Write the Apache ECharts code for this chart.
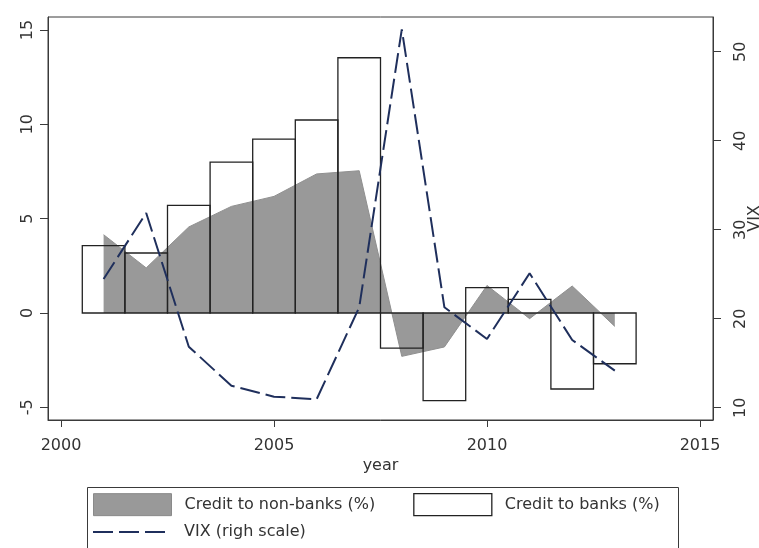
<!DOCTYPE html>
<html>
<head>
<meta charset="utf-8">
<script src="https://cdn.jsdelivr.net/npm/echarts@6/dist/echarts.min.js"></script>
<style>
  html, body { margin: 0; padding: 0; background: #fff; }
  #chart { width: 759px; height: 548px; }
</style>
</head>
<body>
<div id="chart"></div>
<script>
// yearly data
const years = [2001, 2002, 2003, 2004, 2005, 2006, 2007, 2008, 2009, 2010, 2011, 2012, 2013]
const creditNonBanks = [4.15, 2.39, 4.56, 5.65, 6.18, 7.37, 7.54, -2.30, -1.80, 1.46, -0.30, 1.43, -0.71]
const creditBanks = [3.57, 3.18, 5.70, 8.00, 9.22, 10.23, 13.53, -1.86, -4.65, 1.34, 0.72, -4.03, -2.69]
const vix = [24.46, 31.88, 16.85, 12.47, 11.24, 10.94, 21.28, 52.52, 21.28, 17.72, 25.10, 17.61, 14.16]

const xTicks = [2000, 2005, 2010, 2015]
const leftTicks = [-5, 0, 5, 10, 15]
const rightTicks = [10, 20, 30, 40, 50]

const FONT = 'DejaVu Sans'
const TXT = '#333'
const AX = '#3a3a3a'
const GRAY = '#999999'
const NAVY = '#1f2f5c'

const pairs = (vals) => years.map((y, i) => [y, vals[i]])
const plain = (v) => String(v)

const chart = echarts.init(document.getElementById('chart'))

chart.setOption({
  animation: false,
  textStyle: { fontFamily: FONT },
  grid: {
    left: 48, top: 17, right: 46, bottom: 128,
    outerBoundsMode: 'none',
    containLabel: false,
    show: true, borderColor: AX, borderWidth: 1, backgroundColor: '#fff',
  },
  xAxis: {
    type: 'value',
    min: 1999.695,
    max: 2015.305,
    name: 'year',
    nameLocation: 'middle',
    nameGap: 38,
    nameMoveOverlap: false,
    nameTextStyle: { fontSize: 16, color: TXT, fontFamily: FONT },
    axisLine: { show: true, onZero: false, lineStyle: { color: AX } },
    axisTick: { show: true, length: 7, customValues: xTicks, lineStyle: { color: AX } },
    axisLabel: { customValues: xTicks, formatter: plain, fontSize: 16, color: TXT, margin: 18, fontFamily: FONT },
    splitLine: { show: false },
  },
  yAxis: [
    {
      type: 'value',
      position: 'left',
      min: -5.673,
      max: 15.69,
      axisLine: { show: true, onZero: false, lineStyle: { color: AX } },
      axisTick: { show: true, length: 8, customValues: leftTicks, lineStyle: { color: AX } },
      axisLabel: { customValues: leftTicks, formatter: plain, rotate: 90, fontSize: 16, color: TXT, margin: 12, fontFamily: FONT },
      splitLine: { show: false },
    },
    {
      type: 'value',
      position: 'right',
      min: 8.618,
      max: 53.9,
      name: 'VIX',
      nameLocation: 'middle',
      nameRotate: 90,
      nameGap: 34,
      nameMoveOverlap: false,
      nameTextStyle: { fontSize: 16, color: TXT, fontFamily: FONT },
      axisLine: { show: true, onZero: false, lineStyle: { color: AX } },
      axisTick: { show: true, length: 8, customValues: rightTicks, lineStyle: { color: AX } },
      axisLabel: { customValues: rightTicks, formatter: plain, rotate: 90, fontSize: 16, color: TXT, margin: 20, fontFamily: FONT },
      splitLine: { show: false },
    },
  ],
  legend: [
    {
      left: 93,
      top: 493,
      padding: 0,
      itemWidth: 78,
      itemHeight: 22,
      itemGap: 38,
      textStyle: { fontSize: 16, color: TXT, fontFamily: FONT, padding: [0, 0, 0, 8] },
      data: [
        { name: 'Credit to non-banks (%)', icon: 'rect', itemStyle: { color: GRAY, borderColor: '#8a8a8a', borderWidth: 1 } },
        { name: 'Credit to banks (%)', icon: 'rect', itemStyle: { color: '#fff', borderColor: '#222', borderWidth: 1.3 } },
      ],
    },
    {
      left: 93,
      top: 522,
      padding: 0,
      itemWidth: 78,
      itemHeight: 2,
      textStyle: { fontSize: 16, lineHeight: 20, color: TXT, fontFamily: FONT, padding: [0, 0, 0, 11] },
      data: [
        {
          name: 'VIX (righ scale)',
          icon: 'path://M0,0h20v2h-20zM26,0h20v2h-20zM52,0h20v2h-20z',
          itemStyle: { color: NAVY, borderWidth: 0, opacity: 1 },
        },
      ],
    },
  ],
  graphic: [
    {
      type: 'rect',
      left: 85,
      top: 485,
      shape: { width: 591, height: 90 },
      style: { fill: 'none', stroke: AX, lineWidth: 1 },
      silent: true,
      z: -1,
    },
  ],
  series: [
    {
      name: 'Credit to non-banks (%)',
      type: 'line',
      yAxisIndex: 0,
      data: pairs(creditNonBanks),
      symbol: 'none',
      lineStyle: { color: '#8f8f8f', width: 1 },
      itemStyle: { color: GRAY },
      areaStyle: { color: GRAY, opacity: 1, origin: 0 },
      z: 1,
    },
    {
      name: 'Credit to banks (%)',
      type: 'custom',
      yAxisIndex: 0,
      data: pairs(creditBanks),
      encode: { x: 0, y: 1 },
      itemStyle: { color: '#fff', borderColor: '#222' },
      renderItem: (params, api) => {
        const x = api.value(0)
        const v = api.value(1)
        const a = api.coord([x - 0.5, v])
        const b = api.coord([x + 0.5, 0])
        return {
          type: 'rect',
          shape: {
            x: a[0],
            y: Math.min(a[1], b[1]),
            width: b[0] - a[0],
            height: Math.abs(b[1] - a[1]),
          },
          style: { fill: 'none', stroke: '#222', lineWidth: 1.3 },
        }
      },
      z: 2,
    },
    {
      name: 'VIX (righ scale)',
      type: 'line',
      yAxisIndex: 1,
      data: pairs(vix),
      symbol: 'none',
      lineStyle: { color: NAVY, width: 2, type: [20, 6] },
      itemStyle: { color: NAVY },
      z: 3,
    },
  ],
})
</script>
</body>
</html>
